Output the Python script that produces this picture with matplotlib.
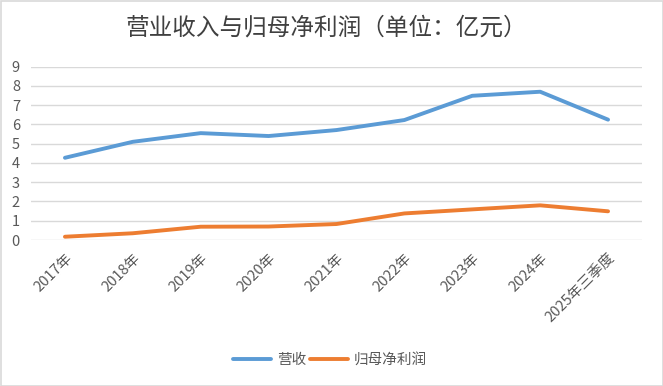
import matplotlib
matplotlib.use("Agg")
import matplotlib.pyplot as plt
from matplotlib.patches import Rectangle

plt.rcParams['font.family'] = ['Noto Sans CJK SC', 'DejaVu Sans']

categories = ["2017年", "2018年", "2019年", "2020年", "2021年", "2022年", "2023年", "2024年", "2025年三季度"]
revenue = [4.27, 5.10, 5.55, 5.40, 5.71, 6.23, 7.49, 7.70, 6.25]
net_profit = [0.17, 0.35, 0.69, 0.70, 0.83, 1.38, 1.59, 1.80, 1.49]
yticks = [0, 1, 2, 3, 4, 5, 6, 7, 8, 9]

fig = plt.figure(figsize=(6.63, 3.86), dpi=100)
ax = fig.add_axes([31/663, 1-240/386, (642-31)/663, (240-66.7)/386])

x = list(range(len(categories)))
l1, = ax.plot(x, revenue, color="#5B9BD5", lw=2.8, solid_capstyle="round", label="营收")
l2, = ax.plot(x, net_profit, color="#ED7D31", lw=2.8, solid_capstyle="round", label="归母净利润")

ax.set_xlim(-0.5, len(categories) - 0.5)
ax.set_ylim(0, 9)
ax.set_yticks(yticks)
ax.set_yticklabels([str(v) for v in yticks], fontsize=10.5, color="#595959")
ax.set_xticks(x)
ax.set_xticklabels(categories, rotation=45, ha="right", va="top", rotation_mode="anchor",
                   fontsize=10.5, color="#595959")
ax.tick_params(axis="both", length=0)
ax.tick_params(axis="y", pad=8)
ax.tick_params(axis="x", pad=8)
ax.grid(axis="y", color="#D9D9D9", lw=1)
ax.set_axisbelow(True)
for s in ax.spines.values():
    s.set_visible(False)

fig.text(326/663, 1-28/386, "营业收入与归母净利润（单位：亿元）", ha="center", va="center",
         fontsize=17, fontweight="medium", color="#404040")

fig.legend(handles=[l1, l2], loc="center", bbox_to_anchor=(330/663, 1-360/386), ncol=2,
           frameon=False, fontsize=10.5, handlelength=2.6, columnspacing=0.3,
           handletextpad=0.4, labelcolor="#595959")

fig.patches.append(Rectangle((0.5/663, 0.5/386), 1-1/663, 1-1/386, transform=fig.transFigure,
                             fill=False, edgecolor="#D9D9D9", lw=1.2))

fig.savefig("out.png", dpi=100)
